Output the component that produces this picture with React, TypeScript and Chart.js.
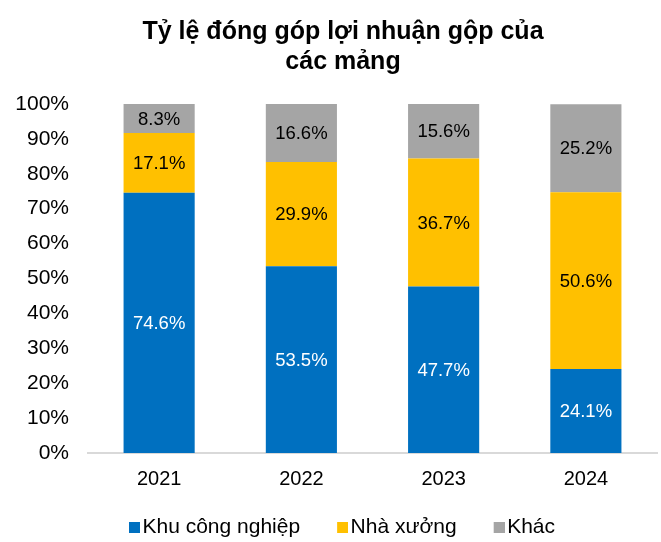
import React, { useEffect, useRef } from "react";
import { Chart, registerables } from "chart.js";

Chart.register(...registerables);

const categories = ["2021", "2022", "2023", "2024"];
const khuCongNghiep = [74.6, 53.5, 47.7, 24.1];
const nhaXuong = [17.1, 29.9, 36.7, 50.6];
const khac = [8.3, 16.6, 15.6, 25.2];
const seriesNames = ["Khu công nghiệp", "Nhà xưởng", "Khác"];
const seriesColors = ["#0070C0", "#FFC000", "#A5A5A5"];
const titleLines = ["Tỷ lệ đóng góp lợi nhuận gộp của", "các mảng"];

const FONT = "'Liberation Sans', Arial, sans-serif";

// legend marker: an 11px square placed at the right side of a wider transparent canvas,
// so that it sits close to its label text
function makeMarker(color: string): HTMLCanvasElement {
  const c = document.createElement("canvas");
  c.width = 17;
  c.height = 11;
  const g = c.getContext("2d");
  if (g) {
    g.fillStyle = color;
    g.fillRect(6, 0, 11, 11);
  }
  return c;
}

const labelPlugin = {
  id: "segLabels",
  afterDatasetsDraw(chart: any) {
    const ctx = chart.ctx;
    ctx.save();
    ctx.font = `18.5px ${FONT}`;
    ctx.textAlign = "center";
    ctx.textBaseline = "middle";
    chart.data.datasets.forEach((ds: any, di: number) => {
      const meta = chart.getDatasetMeta(di);
      meta.data.forEach((bar: any, i: number) => {
        const v = ds.data[i];
        const y = (bar.y + bar.base) / 2;
        ctx.fillStyle = di === 0 ? "#ffffff" : "#000000";
        ctx.fillText(v.toFixed(1) + "%", bar.x, y + 1);
      });
    });
    ctx.restore();
  },
};

// widen the label clip areas of the axes so tick labels are not cut off
const unclipPlugin = {
  id: "unclipAxes",
  afterLayout(chart: any) {
    if (chart.scales.y) chart.scales.y.left = 0;
    if (chart.scales.x) chart.scales.x.bottom = chart.height;
  },
};

export default function App() {
  const ref = useRef<HTMLCanvasElement | null>(null);
  useEffect(() => {
    document.body.style.margin = "0";
    if (!ref.current) return;
    const markers = seriesColors.map(makeMarker);
    const chart = new Chart(ref.current, {
      type: "bar",
      data: {
        labels: categories,
        datasets: [
          { label: seriesNames[0], data: khuCongNghiep, backgroundColor: seriesColors[0] },
          { label: seriesNames[1], data: nhaXuong, backgroundColor: seriesColors[1] },
          { label: seriesNames[2], data: khac, backgroundColor: seriesColors[2] },
        ],
      },
      options: {
        responsive: false,
        animation: false,
        layout: { padding: { left: 29, right: 4, top: 0, bottom: -5.5 } },
        datasets: { bar: { categoryPercentage: 1, barPercentage: 0.5 } } as any,
        plugins: {
          title: {
            display: true,
            text: titleLines,
            color: "#000",
            font: { family: FONT, size: 25, weight: "bold", lineHeight: 1.2 },
            padding: { top: 17, bottom: 27 },
          },
          legend: {
            position: "bottom",
            labels: {
              color: "#000",
              font: { family: FONT, size: 21 },
              usePointStyle: true,
              boxWidth: 1,
              boxHeight: 11,
              padding: 39,
              generateLabels: (ch: any) => {
                const items = (Chart as any).defaults.plugins.legend.labels.generateLabels(ch);
                return items.map((it: any, i: number) => ({ ...it, pointStyle: markers[i] }));
              },
            },
          },
          tooltip: { enabled: false },
        },
        scales: {
          x: {
            stacked: true,
            grid: { display: false },
            border: { display: true, color: "#D9D9D9", width: 2 },
            ticks: { color: "#000", font: { family: FONT, size: 20 }, padding: 6 },
            afterFit: (s: any) => {
              s.height = 24.5;
            },
          },
          y: {
            stacked: true,
            min: 0,
            max: 100,
            grid: { display: false },
            border: { display: false },
            ticks: {
              stepSize: 10,
              color: "#000",
              font: { family: FONT, size: 21 },
              padding: 11,
              callback: (v: any) => v + "%",
            },
            afterFit: (s: any) => {
              s.width = 59;
            },
          },
        },
      },
      plugins: [labelPlugin, unclipPlugin],
    });
    return () => chart.destroy();
  }, []);
  return <canvas ref={ref} width={661} height={542} />;
}
